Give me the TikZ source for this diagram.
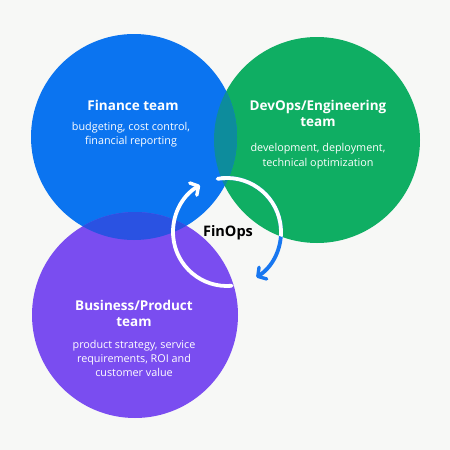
\documentclass[tikz,border=0pt]{standalone}
\usepackage{fontspec}
\setmainfont{Open Sans}
\usetikzlibrary{arrows.meta,calc}
\definecolor{bgc}{HTML}{F7F8F6}
\definecolor{finblue}{HTML}{0B74F0}
\definecolor{devgreen}{HTML}{0FAE63}
\definecolor{bizpurple}{HTML}{7A4DF0}
\definecolor{bgover}{HTML}{0D8C9C}
\definecolor{bpover}{HTML}{2A52E2}
\definecolor{arrowblue}{HTML}{1877F0}
\tikzset{
  team/.style={circle, minimum size=206pt, inner sep=0pt, draw=none},
  title/.style={text=white, font=\fontsize{13.5}{16}\selectfont\bfseries, align=center, inner sep=0pt},
  body/.style={text=white, font=\fontsize{10.8}{14}\selectfont, align=center, inner sep=0pt},
  cyc/.style={line width=3.8pt, line cap=round},
  tip/.style={-{Straight Barb[length=6pt,width=14pt,line width=3.4pt,round]}}
}
\begin{document}
\begin{tikzpicture}[x=1pt,y=-1pt]
\fill[bgc] (0,0) rectangle (450,450);
\useasboundingbox (0,0) rectangle (450,450);
% circles
\node[team, fill=devgreen] (dev) at (317,140) {};
\node[team, fill=finblue] (fin) at (134,137) {};
\node[team, fill=bizpurple] (biz) at (135,315) {};
% overlaps
\begin{scope}
  \clip (317,140) circle[radius=103];
  \fill[bgover] (134,137) circle[radius=103];
\end{scope}
\begin{scope}
  \clip (135,315) circle[radius=103];
  \fill[bpover] (134,137) circle[radius=103];
\end{scope}
% cycle arrows
\coordinate (c) at (227,232);
\draw[cyc, arrowblue, tip] ($(c)+(-100:54)$) arc[start angle=-100, end angle=57, radius=54];
\begin{scope}
  \clip (317,140) circle[radius=103];
  \draw[cyc, white] ($(c)+(-100:54)$) arc[start angle=-100, end angle=57, radius=54];
\end{scope}
\begin{scope}
  \clip (134,137) circle[radius=103];
  \draw[cyc, white] ($(c)+(-100:54)$) arc[start angle=-100, end angle=57, radius=54];
\end{scope}
\draw[cyc, white, tip] ($(c)+(85:54)$) arc[start angle=85, end angle=240, radius=54];
% texts
\node[title] (fint) at (133,105) {Finance team};
\node[body] (finb) at (131,135) {budgeting, cost control,\\financial reporting};
\node[title] (devt) at (318,113) {DevOps/Engineering\\team};
\node[body, font=\fontsize{10.8}{15}\selectfont] (devb) at (318,156.5) {development, deployment,\\technical optimization};
\node[title] (bizt) at (134,313.5) {Business/Product\\team};
\node[body] (bizb) at (134,358) {product strategy, service\\requirements, ROI and\\customer value};
\node[inner sep=0pt, font=\fontsize{14.5}{16}\selectfont\bfseries, text=black] (finops) at (228,233) {FinOps};
\end{tikzpicture}
\end{document}
